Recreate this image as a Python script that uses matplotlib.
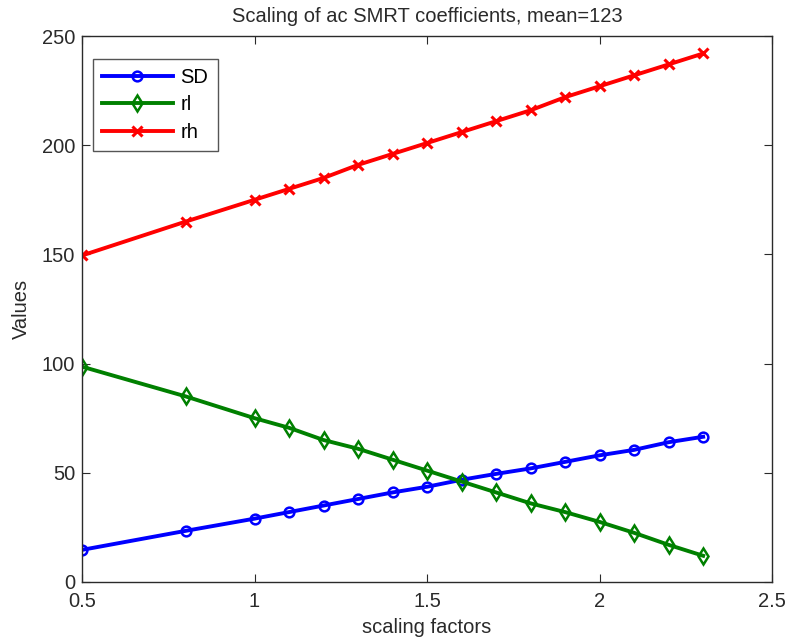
import matplotlib
matplotlib.use("Agg")
import matplotlib.pyplot as plt

plt.rcParams['font.family'] = ['Liberation Sans', 'DejaVu Sans']

scales = [0.5, 0.8, 1.0, 1.1, 1.2, 1.3, 1.4, 1.5, 1.6, 1.7, 1.8, 1.9, 2.0, 2.1, 2.2, 2.3]
sd = [14.7, 23.4, 29, 32, 35, 38, 41, 43.6, 46.8, 49.5, 52, 55, 58, 60.5, 64, 66.5]
rl = [98.6, 85, 75, 70.6, 65, 61, 56, 51, 46, 41, 36, 32, 27.5, 22.5, 17, 12]
rh = [149.5, 165, 175, 180, 185, 191, 196, 201, 206, 211, 216, 222, 227, 232, 237, 242]

xticks = [0.5, 1, 1.5, 2, 2.5]
xticklabels = ['0.5', '1', '1.5', '2', '2.5']
yticks = [0, 50, 100, 150, 200, 250]

FS = 14.5
TXT = '#2a2a2a'

fig = plt.figure(figsize=(7.92, 6.43), dpi=100)
ax = fig.add_axes([0.1035, 0.0949, 0.8715, 0.8491])

ax.plot(scales, sd, color='#0000ff', lw=2.8, marker='o', ms=7, mfc='none', mew=1.8, label='SD')
ax.plot(scales, rl, color='#008000', lw=2.8, marker='d', ms=8, mfc='none', mew=1.8, label='rl')
ax.plot(scales, rh, color='#ff0000', lw=2.8, marker='x', ms=7, mew=2.2, label='rh')

ax.set_xlim(0.5, 2.5)
ax.set_ylim(0, 250)
ax.set_xticks(xticks)
ax.set_xticklabels(xticklabels)
ax.set_yticks(yticks)
ax.tick_params(axis='both', direction='in', top=True, right=True, length=6, labelsize=FS, colors=TXT)
ax.tick_params(axis='x', pad=7)
ax.tick_params(axis='y', pad=5)
for s in ax.spines.values():
    s.set_color(TXT)
    s.set_linewidth(1.0)

ax.set_title('Scaling of ac SMRT coefficients, mean=123', fontsize=FS, color=TXT, pad=10)
ax.set_xlabel('scaling factors', fontsize=FS, color=TXT, labelpad=5)
ax.set_ylabel('Values', fontsize=FS, color=TXT, labelpad=8)

leg = ax.legend(loc='upper left', bbox_to_anchor=(0.016, 0.958), fontsize=FS, frameon=True,
                fancybox=False, edgecolor=TXT, handlelength=3.5, borderpad=0.45,
                labelspacing=0.42, handletextpad=0.4, borderaxespad=0.0)
leg.get_frame().set_linewidth(1.0)

fig.savefig('out.png', dpi=100)
